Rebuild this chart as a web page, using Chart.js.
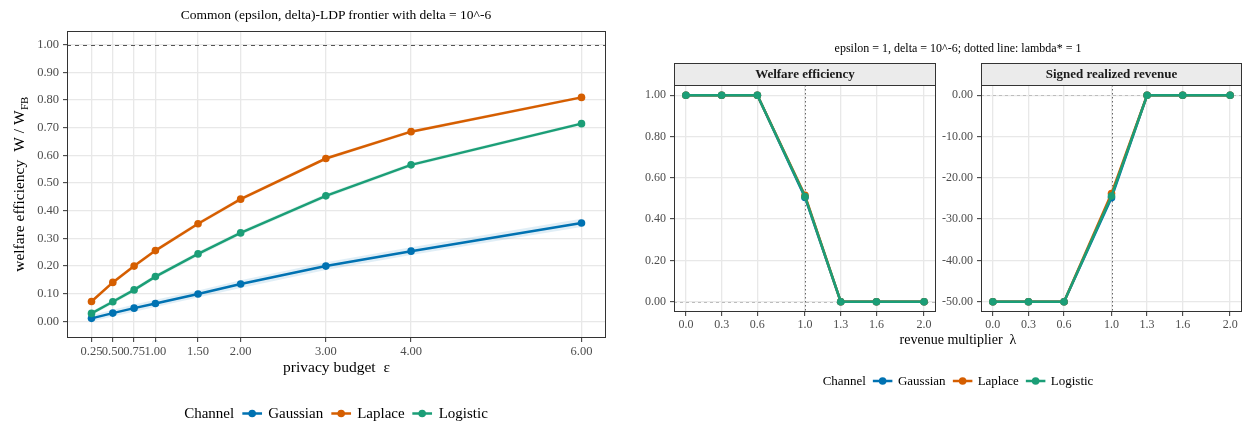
<!DOCTYPE html>
<html>
<head>
<meta charset="utf-8">
<script src="https://cdn.jsdelivr.net/npm/chart.js"></script>
<style>
  body { margin: 0; background: #fff; font-family: 'Liberation Serif', 'Times New Roman', serif; }
  #wrap { position: relative; width: 1247px; height: 425px; overflow: hidden; }
  canvas { position: absolute; top: 0; }
  .txt { position: absolute; white-space: nowrap; transform: translate(-50%, -50%); color: #000; }
  .legend { position: absolute; display: flex; align-items: center; white-space: nowrap; transform: translate(-50%, -50%); color: #000; }
  .legend .key { display: inline-block; margin: 0 5px 0 7px; }
  #legendLeft .key { margin: 0 6px 0 8px; }
</style>
</head>
<body>
<div id="wrap">
  <canvas id="frontier" width="620" height="425" style="left:0px"></canvas>
  <canvas id="welfare" width="320" height="425" style="left:630px"></canvas>
  <canvas id="revenue" width="322" height="425" style="left:925px"></canvas>

  <div class="txt" style="left:336px; top:15px; font-size:13.5px">Common (epsilon, delta)-LDP frontier with delta = 10^-6</div>
  <div class="txt" style="left:958px; top:48px; font-size:12px">epsilon = 1, delta = 10^-6; dotted line: lambda* = 1</div>
  <div class="txt" style="left:958px; top:340px; font-size:14px">revenue multiplier&nbsp;&nbsp;λ</div>
  <div class="legend" id="legendLeft" style="left:336px; top:413px; font-size:15px"></div>
  <div class="legend" id="legendRight" style="left:958px; top:381px; font-size:13px"></div>
</div>

<script>
// ---- data ----
const channels = ['Gaussian', 'Laplace', 'Logistic'];
const channelColors = ['#0072B2', '#D55E00', '#1B9E77'];

// left: frontier over privacy budget
const epsilon = [0.25, 0.5, 0.75, 1, 1.5, 2, 3, 4, 6];
const gaussianW = [0.011, 0.030, 0.048, 0.065, 0.099, 0.135, 0.200, 0.254, 0.356];
const laplaceW  = [0.072, 0.141, 0.200, 0.256, 0.353, 0.442, 0.589, 0.686, 0.810];
const logisticW = [0.029, 0.071, 0.114, 0.162, 0.244, 0.320, 0.454, 0.566, 0.715];
// ribbons around each line
const gaussianLo = [0.000, 0.018, 0.035, 0.052, 0.086, 0.121, 0.186, 0.240, 0.341];
const gaussianHi = [0.022, 0.042, 0.061, 0.078, 0.112, 0.149, 0.214, 0.268, 0.371];
const laplaceLo  = [0.066, 0.134, 0.193, 0.249, 0.346, 0.435, 0.583, 0.680, 0.805];
const laplaceHi  = [0.078, 0.148, 0.207, 0.263, 0.360, 0.449, 0.595, 0.692, 0.815];
const logisticLo = [0.022, 0.063, 0.106, 0.154, 0.236, 0.312, 0.446, 0.559, 0.709];
const logisticHi = [0.036, 0.079, 0.122, 0.170, 0.252, 0.328, 0.462, 0.573, 0.721];
const epsilonTicks = [0.25, 0.5, 0.75, 1, 1.5, 2, 3, 4, 6];
const frontierYTicks = [0, 0.1, 0.2, 0.3, 0.4, 0.5, 0.6, 0.7, 0.8, 0.9, 1.0];
const firstBest = 1.0;

// right: revenue multiplier sweep at epsilon = 1
const lambda = [0, 0.3, 0.6, 1.0, 1.3, 1.6, 2.0];
const welfareGaussian = [1, 1, 1, 0.505, 0, 0, 0];
const welfareLaplace  = [1, 1, 1, 0.515, 0, 0, 0];
const welfareLogistic = [1, 1, 1, 0.510, 0, 0, 0];
const revenueGaussian = [-50, -50, -50, -24.8, 0, 0, 0];
const revenueLaplace  = [-50, -50, -50, -23.8, 0, 0, 0];
const revenueLogistic = [-50, -50, -50, -24.4, 0, 0, 0];
const lambdaTicks = [0, 0.3, 0.6, 1.0, 1.3, 1.6, 2.0];
const welfareTicks = [0, 0.2, 0.4, 0.6, 0.8, 1.0];
const revenueTicks = [-50, -40, -30, -20, -10, 0];
const lambdaStar = 1;

const serif = "'Liberation Serif', 'Times New Roman', serif";
Chart.defaults.font.family = serif;

function xy(xs, ys) {
    return xs.map((x, i) => ({ x: x, y: ys[i] }));
}

function rgba(hex, a) {
    const n = parseInt(hex.slice(1), 16);
    return `rgba(${(n >> 16) & 255}, ${(n >> 8) & 255}, ${n & 255}, ${a})`;
}

function lineSet(label, xs, ys, color, order) {
    return {
        label: label,
        data: xy(xs, ys),
        borderColor: color,
        backgroundColor: color,
        borderWidth: 2.5,
        pointRadius: 3.8,
        pointBorderWidth: 0,
        pointBackgroundColor: color,
        tension: 0,
        fill: false,
        order: order
    };
}

function ribbonSets(xs, lo, hi, color) {
    return [
        { data: xy(xs, lo), borderWidth: 0, pointRadius: 0, fill: false, order: 10 },
        { data: xy(xs, hi), borderWidth: 0, pointRadius: 0, fill: '-1', backgroundColor: rgba(color, 0.12), order: 10 }
    ];
}

function axis(min, max, ticks, digits, size, horizontal, fontSize) {
    return {
        type: 'linear',
        min: min,
        max: max,
        afterBuildTicks: s => { s.ticks = ticks.map(v => ({ value: v })); },
        afterFit: s => { if (horizontal) s.height = size; else s.width = size; },
        grid: { color: '#E8E8E8', lineWidth: 1.3, drawTicks: true, tickLength: 4, tickColor: '#333333', tickWidth: 1 },
        border: { display: false },
        ticks: {
            callback: v => Number(v).toFixed(digits),
            color: '#4D4D4D',
            font: { size: fontSize },
            padding: horizontal ? 2 : 4,
            autoSkip: false,
            maxRotation: 0,
            minRotation: 0
        }
    };
}

// dashed / dotted reference lines, placed through the scales
const refLinesPlugin = {
    id: 'refLines',
    beforeDatasetsDraw(chart, args, opts) {
        const { ctx, chartArea: a, scales } = chart;
        ctx.save();
        (opts.h || []).forEach(r => {
            const y = Math.round(scales.y.getPixelForValue(r.value)) + 0.5;
            ctx.strokeStyle = r.color; ctx.lineWidth = 1; ctx.setLineDash(r.dash);
            ctx.beginPath(); ctx.moveTo(a.left, y); ctx.lineTo(a.right, y); ctx.stroke();
        });
        (opts.v || []).forEach(r => {
            const x = Math.round(scales.x.getPixelForValue(r.value)) + 0.5;
            ctx.strokeStyle = r.color; ctx.lineWidth = 1; ctx.setLineDash(r.dash);
            ctx.beginPath(); ctx.moveTo(x, a.top); ctx.lineTo(x, a.bottom); ctx.stroke();
        });
        ctx.restore();
    }
};

const framePlugin = {
    id: 'panelFrame',
    afterDraw(chart, args, opts) {
        const { ctx, chartArea: a } = chart;
        ctx.save();
        ctx.strokeStyle = '#333333';
        ctx.lineWidth = 1;
        if (opts.strip) {
            const top = opts.stripTop;
            ctx.fillStyle = '#EBEBEB';
            ctx.fillRect(a.left, top, a.right - a.left, a.top - top);
            ctx.strokeRect(Math.round(a.left) + 0.5, top + 0.5, Math.round(a.right - a.left) - 1, a.top - top);
            ctx.fillStyle = '#1A1A1A';
            ctx.font = `bold 13px ${serif}`;
            ctx.textAlign = 'center';
            ctx.textBaseline = 'middle';
            ctx.fillText(opts.strip, (a.left + a.right) / 2, (top + a.top) / 2 + 1);
        }
        ctx.strokeRect(Math.round(a.left) + 0.5, Math.round(a.top) + 0.5, Math.round(a.right - a.left) - 1, Math.round(a.bottom - a.top) - 1);
        ctx.restore();
    }
};

// rotated y title with the FB subscript
const yTitlePlugin = {
    id: 'yTitleFB',
    afterDraw(chart, args, o) {
        const { ctx, chartArea: a } = chart;
        const big = `${o.size}px ${serif}`;
        const small = `${o.size * 0.7}px ${serif}`;
        ctx.save();
        ctx.translate(o.x, (a.top + a.bottom) / 2);
        ctx.rotate(-Math.PI / 2);
        ctx.fillStyle = '#000';
        ctx.textBaseline = 'middle';
        ctx.textAlign = 'left';
        ctx.font = big;
        const w1 = ctx.measureText(o.main).width;
        const w2 = ctx.measureText(o.ratio).width;
        ctx.font = small;
        const w3 = ctx.measureText(o.sub).width;
        let x = -(w1 + o.gap + w2 + w3) / 2;
        ctx.font = big;
        ctx.fillText(o.main, x, 0);
        x += w1 + o.gap;
        ctx.fillText(o.ratio, x, 0);
        x += w2 + 0.5;
        ctx.font = small;
        ctx.fillText(o.sub, x, o.size * 0.3);
        ctx.restore();
    }
};

new Chart(document.getElementById('frontier'), {
    type: 'line',
    data: {
        datasets: [
            ...ribbonSets(epsilon, gaussianLo, gaussianHi, channelColors[0]),
            ...ribbonSets(epsilon, laplaceLo, laplaceHi, channelColors[1]),
            ...ribbonSets(epsilon, logisticLo, logisticHi, channelColors[2]),
            lineSet(channels[0], epsilon, gaussianW, channelColors[0], 3),
            lineSet(channels[1], epsilon, laplaceW, channelColors[1], 2),
            lineSet(channels[2], epsilon, logisticW, channelColors[2], 1)
        ]
    },
    options: {
        responsive: false,
        animation: false,
        layout: { padding: { left: 0, top: 31, right: 14, bottom: 48 } },
        scales: {
            x: Object.assign(axis(-0.0375, 6.2875, epsilonTicks, 2, 39, true, 12.5), {
                title: { display: true, text: 'privacy budget  ε', color: '#000', font: { size: 15.5 }, padding: 0 }
            }),
            y: axis(-0.06, 1.05, frontierYTicks, 2, 67, false, 12.5)
        },
        plugins: {
            legend: { display: false },
            tooltip: { enabled: false },
            refLines: { h: [{ value: firstBest, color: '#555555', dash: [4, 4] }] },
            panelFrame: {},
            yTitleFB: { x: 20, size: 15.5, main: 'welfare efficiency', ratio: 'W / W', sub: 'FB', gap: 8 }
        }
    },
    plugins: [refLinesPlugin, framePlugin, yTitlePlugin]
});

function sweepChart(id, title, gauss, lap, logi, yMin, yMax, yTicks, yWidth, padRight) {
    return new Chart(document.getElementById(id), {
        type: 'line',
        data: {
            datasets: [
                lineSet(channels[0], lambda, gauss, channelColors[0], 3),
                lineSet(channels[1], lambda, lap, channelColors[1], 2),
                lineSet(channels[2], lambda, logi, channelColors[2], 1)
            ]
        },
        options: {
            responsive: false,
            animation: false,
            layout: { padding: { left: 0, top: 85, right: padRight, bottom: 83 } },
            scales: {
                x: axis(-0.1, 2.1, lambdaTicks, 1, 30, true, 12),
                y: axis(yMin, yMax, yTicks, 2, yWidth, false, 12)
            },
            plugins: {
                legend: { display: false },
                tooltip: { enabled: false },
                refLines: {
                    h: [{ value: 0, color: '#BDBDBD', dash: [3, 3] }],
                    v: [{ value: lambdaStar, color: '#666666', dash: [1.5, 2.5] }]
                },
                panelFrame: { strip: title, stripTop: 63 }
            }
        },
        plugins: [refLinesPlugin, framePlugin]
    });
}

sweepChart('welfare', 'Welfare efficiency', welfareGaussian, welfareLaplace, welfareLogistic, -0.05, 1.05, welfareTicks, 44, 14);
sweepChart('revenue', 'Signed realized revenue', revenueGaussian, revenueLaplace, revenueLogistic, -52.5, 2.5, revenueTicks, 56, 5);

function buildLegend(el) {
    const head = document.createElement('span');
    head.textContent = 'Channel';
    el.appendChild(head);
    channels.forEach((name, i) => {
        const key = document.createElementNS('http://www.w3.org/2000/svg', 'svg');
        key.setAttribute('width', '20');
        key.setAttribute('height', '10');
        key.setAttribute('class', 'key');
        key.innerHTML = `<line x1="0" y1="5" x2="20" y2="5" stroke="${channelColors[i]}" stroke-width="2.5"/>` +
                        `<circle cx="10" cy="5" r="3.8" fill="${channelColors[i]}"/>`;
        el.appendChild(key);
        const label = document.createElement('span');
        label.textContent = name;
        el.appendChild(label);
    });
}
buildLegend(document.getElementById('legendLeft'));
buildLegend(document.getElementById('legendRight'));
</script>
</body>
</html>
